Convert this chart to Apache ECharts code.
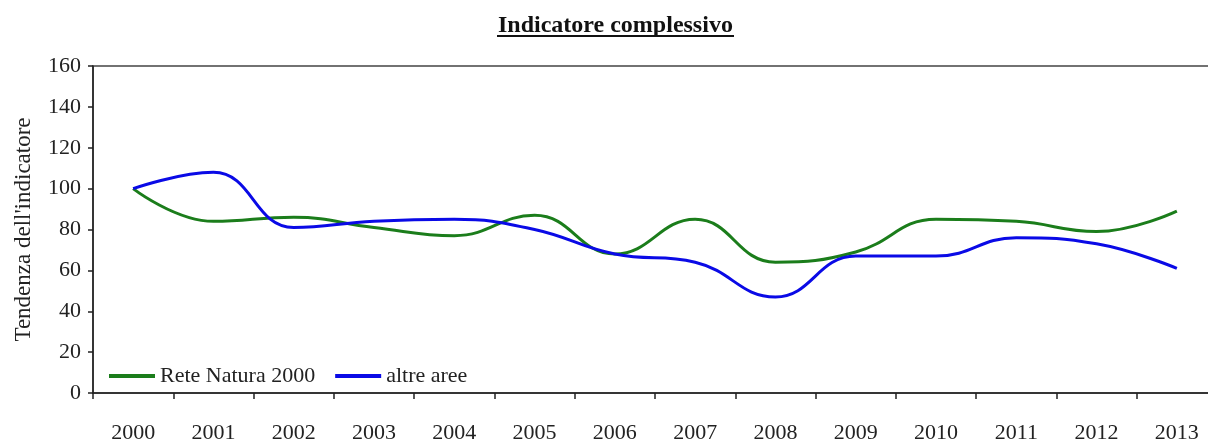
<!DOCTYPE html>
<html>
<head>
<meta charset="utf-8">
<title>Indicatore complessivo</title>
<script src="https://cdn.jsdelivr.net/npm/echarts@6/dist/echarts.min.js"></script>
<style>
    html, body { margin: 0; padding: 0; background: #fff; }
    #chart { width: 1208px; height: 441px; }
</style>
</head>
<body>
<div id="chart"></div>
<script>
// dati
const years = ['2000', '2001', '2002', '2003', '2004', '2005', '2006',
               '2007', '2008', '2009', '2010', '2011', '2012', '2013'];
const reteNatura = [100, 84, 86, 81, 77, 87, 68, 85, 64, 69, 85, 84, 79, 89];
const altreAree  = [100, 108, 81, 84, 85, 80, 68, 64, 47, 67, 67, 76, 73, 61];
const yTicks = [0, 20, 40, 60, 80, 100, 120, 140, 160];

const serif = '"Liberation Serif", "DejaVu Serif", serif';
const txt = '#222';

var myChart = echarts.init(document.getElementById('chart'));
myChart.setOption({
    backgroundColor: '#fff',
    animation: false,
    title: {
        text: 'Indicatore complessivo',
        left: 493,
        top: 9,
        textStyle: {
            fontFamily: serif,
            fontSize: 24,
            fontWeight: 'bold',
            color: '#111'
        }
    },
    // sottolineatura del titolo
    graphic: [{
        type: 'rect',
        left: 497,
        top: 35,
        shape: { width: 237, height: 2 },
        style: { fill: '#111' }
    }],
    legend: {
        left: 104,
        top: 360,
        icon: 'rect',
        itemWidth: 46,
        itemHeight: 4,
        itemGap: 20,
        textStyle: { fontFamily: serif, fontSize: 22, color: txt },
        data: ['Rete Natura 2000', 'altre aree']
    },
    grid: {
        left: 93,
        top: 66,
        width: 1124,
        height: 327,
        outerBoundsMode: 'none',
        show: true,
        borderColor: '#444',
        borderWidth: 1.5
    },
    xAxis: {
        type: 'category',
        data: years,
        boundaryGap: true,
        axisLine: { lineStyle: { color: '#222', width: 1.5 } },
        axisTick: { show: true, length: 6, lineStyle: { color: '#222', width: 1.5 } },
        axisLabel: { margin: 29, fontFamily: serif, fontSize: 22, color: txt },
        splitLine: { show: false }
    },
    yAxis: {
        type: 'value',
        min: yTicks[0],
        max: yTicks[yTicks.length - 1],
        interval: yTicks[1] - yTicks[0],
        name: "Tendenza dell'indicatore",
        nameLocation: 'middle',
        nameGap: 58,
        nameTextStyle: { fontFamily: serif, fontSize: 23, color: txt },
        axisLine: { show: true, lineStyle: { color: '#222', width: 1.5 } },
        axisTick: { show: true, length: 5, lineStyle: { color: '#222', width: 1.5 } },
        axisLabel: { margin: 12, fontFamily: serif, fontSize: 22, color: txt },
        splitLine: { show: false }
    },
    series: [{
        name: 'Rete Natura 2000',
        type: 'line',
        data: reteNatura,
        smooth: 0.45,
        symbol: 'none',
        color: '#1b7d1b',
        lineStyle: { width: 3 }
    }, {
        name: 'altre aree',
        type: 'line',
        data: altreAree,
        smooth: 0.45,
        symbol: 'none',
        color: '#0a0ae6',
        lineStyle: { width: 3 }
    }]
});
</script>
</body>
</html>
